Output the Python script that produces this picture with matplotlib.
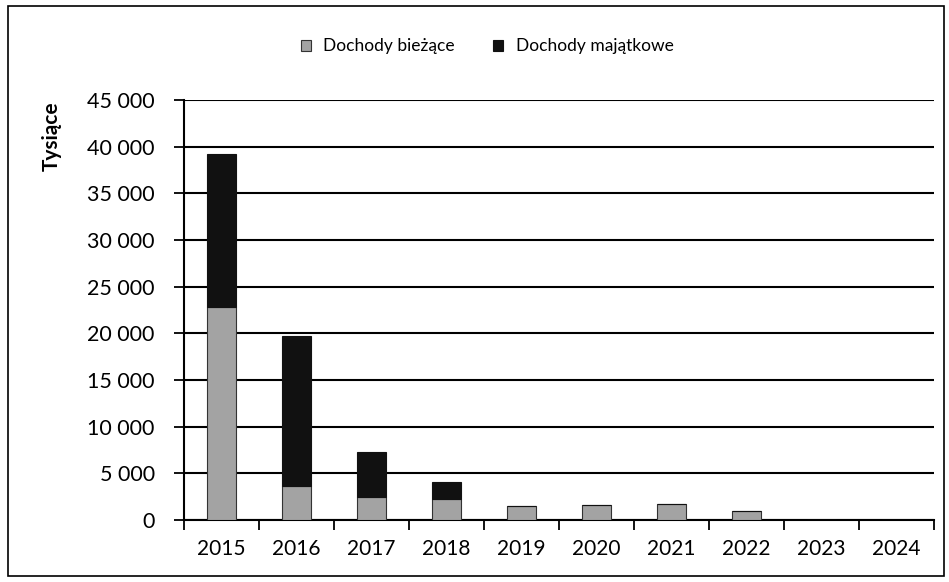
import matplotlib.pyplot as plt
from matplotlib.patches import Rectangle
import numpy as np

years = ["2015", "2016", "2017", "2018", "2019", "2020", "2021", "2022", "2023", "2024"]
biezace = [22850, 3600, 2500, 2300, 1550, 1650, 1700, 1000, 0, 0]
majatkowe = [16350, 16100, 4750, 1750, 0, 0, 0, 0, 0, 0]

plt.rcParams['font.family'] = ['Lato', 'DejaVu Sans']

fig = plt.figure(figsize=(9.49, 5.82), dpi=100)
ax = fig.add_axes([184 / 949, 1 - 520 / 582, 750 / 949, 420 / 582])

x = np.arange(len(years))
ax.bar(x, biezace, width=0.39, color="#a3a3a3", edgecolor="#333333", linewidth=0.8,
       label="Dochody bieżące", zorder=3)
ax.bar(x, majatkowe, width=0.39, bottom=biezace, color="#111111", edgecolor="#111111",
       linewidth=0.8, label="Dochody majątkowe", zorder=3)

ax.set_xlim(-0.5, len(years) - 0.5)
ax.set_ylim(0, 45000)
ax.set_yticks(np.arange(0, 45001, 5000))
ax.set_yticklabels([f"{v:,}".replace(",", " ") for v in range(0, 45001, 5000)], fontsize=15.5)
ax.set_xticks(x)
ax.set_xticklabels(years, fontsize=15)
ax.set_xticks(np.arange(-0.5, len(years), 1), minor=True)
ax.tick_params(axis="x", which="major", length=0, pad=14)
ax.tick_params(axis="x", which="minor", length=7, width=1.3, direction="out")
ax.tick_params(axis="y", length=7, width=1.3, direction="out", pad=14)

ax.grid(axis="y", color="black", linewidth=1.5, zorder=0)
for s in ["top", "right"]:
    ax.spines[s].set_visible(False)
ax.spines["left"].set_linewidth(1.5)
ax.spines["bottom"].set_linewidth(1.5)

ax.set_ylabel("Tysiące", fontsize=15, fontweight="bold")
ax.yaxis.set_label_coords(-0.163, 0.915)

ax.legend(loc="center", bbox_to_anchor=(0.404, 1.128), ncol=2, frameon=False,
          fontsize=12.5, handlelength=0.6, handleheight=0.6, handletextpad=0.7,
          columnspacing=2.2)

fig.patches.append(Rectangle((8 / 949, 6 / 582), 936 / 949, 570 / 582, transform=fig.transFigure,
                             fill=False, edgecolor="black", linewidth=1.2))

fig.savefig("out.png", dpi=100)
